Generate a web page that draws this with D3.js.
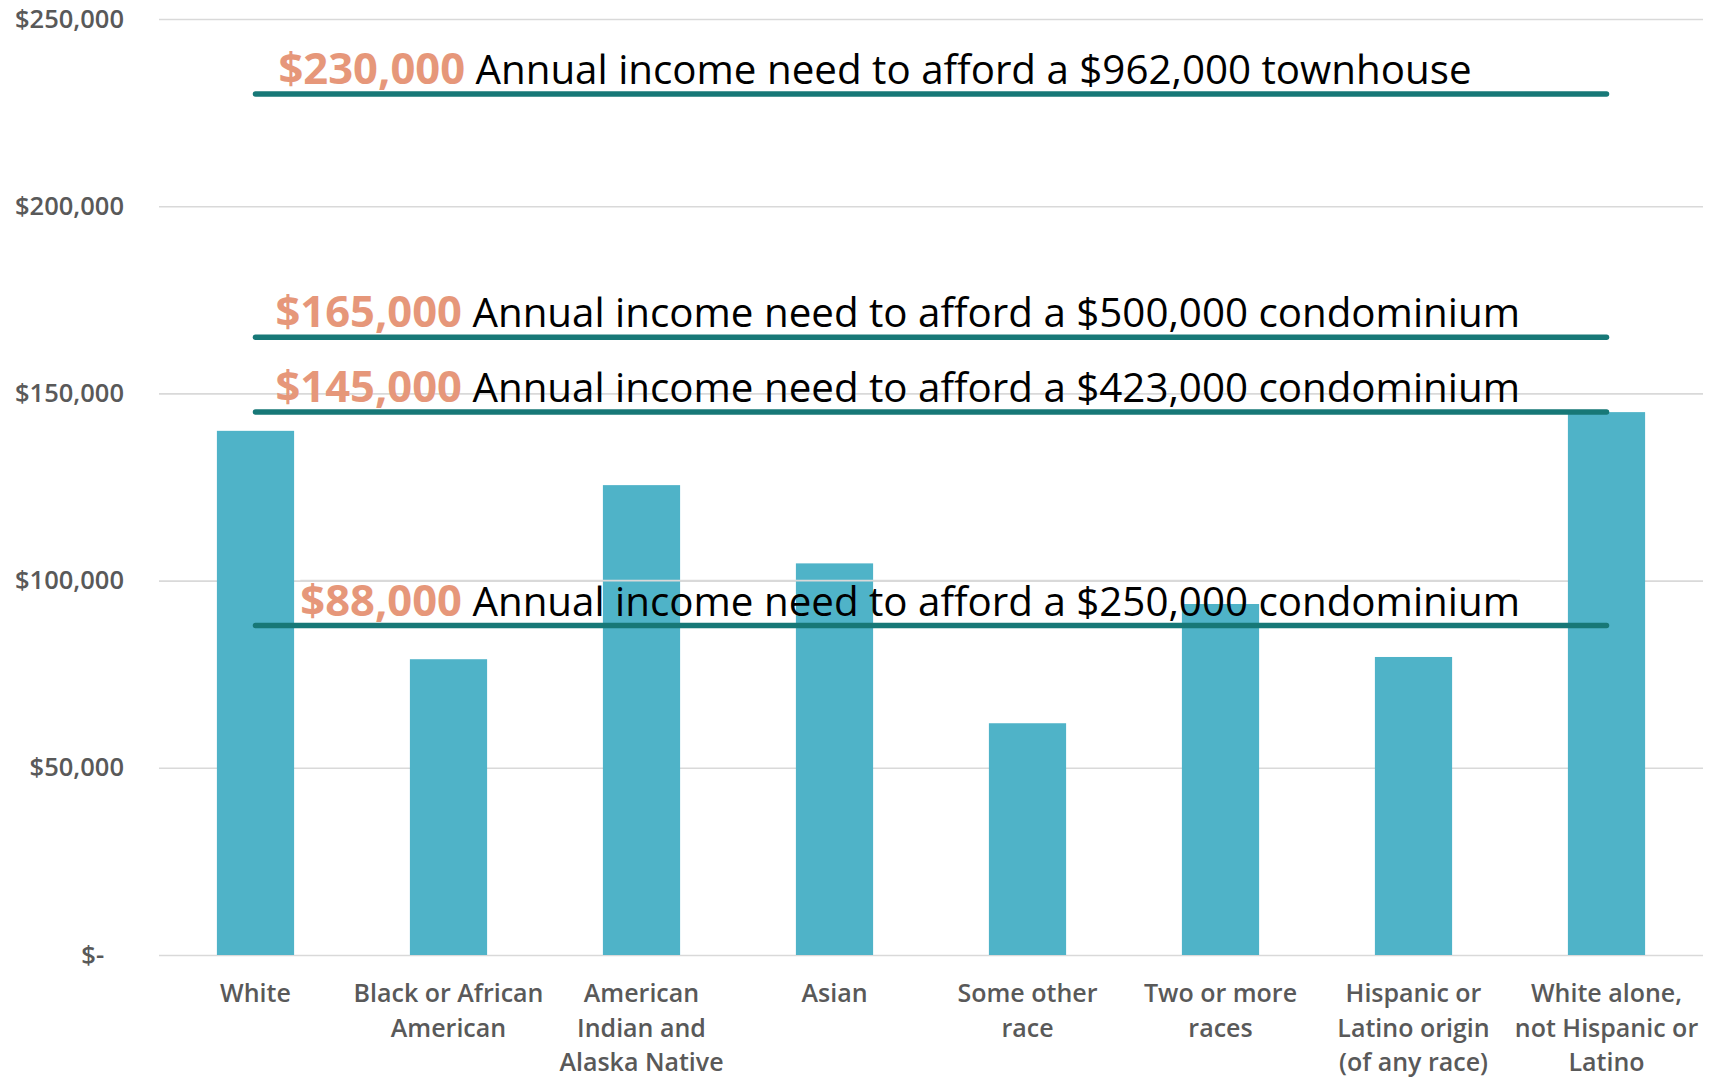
<!DOCTYPE html>
<html>
<head>
<meta charset="utf-8">
<script src="https://cdn.jsdelivr.net/npm/d3@7"></script>
<style>
  html, body { margin: 0; padding: 0; background: #ffffff; }
  svg { display: block; }
  text { font-family: "Open Sans", "Noto Sans", sans-serif; }
</style>
</head>
<body>
<svg id="chart" width="1716" height="1078"></svg>
<script>
// Median household income by race / ethnicity
const categories = [
  "White",
  "Black or African\nAmerican",
  "American\nIndian and\nAlaska Native",
  "Asian",
  "Some other\nrace",
  "Two or more\nraces",
  "Hispanic or\nLatino origin\n(of any race)",
  "White alone,\nnot Hispanic or\nLatino"
];
const incomes = [140000, 79000, 125500, 104600, 61900, 93750, 79600, 145000];

// Income needed to afford each home type
const thresholds = [230000, 165000, 145000, 88000];
const homeLabels = [
  "$962,000 townhouse",
  "$500,000 condominium",
  "$423,000 condominium",
  "$250,000 condominium"
];

const yTicks = [0, 50000, 100000, 150000, 200000, 250000];

const W = 1716, H = 1078;
const margin = { top: 19, right: 13, bottom: 123, left: 159 };

const svg = d3.select("#chart");

const x = d3.scaleBand()
  .domain(categories)
  .range([margin.left, W - margin.right])
  .paddingInner(0.6)
  .paddingOuter(0.3);

const y = d3.scaleLinear()
  .domain([0, 250000])
  .range([H - margin.bottom, margin.top]);

const money = d3.format(",");

// Gridlines + y-axis labels
const yAxis = d3.axisLeft(y)
  .tickValues(yTicks)
  .tickSize(-(W - margin.left - margin.right))
  .tickPadding(35)
  .tickFormat(d => d === 0 ? "$-\u00A0\u00A0\u00A0" : "$" + money(d));

const gy = svg.append("g")
  .attr("transform", `translate(${margin.left},0)`)
  .call(yAxis);
gy.select(".domain").remove();
gy.selectAll(".tick line")
  .attr("stroke", "#d9d9d9")
  .attr("stroke-width", 1.6);
gy.selectAll(".tick text")
  .attr("fill", "#595959")
  .attr("font-size", 25.5)
  .attr("font-weight", 600)
  .style("font-family", "'Open Sans', sans-serif");

// Bars
svg.append("g")
  .selectAll("rect")
  .data(categories)
  .join("rect")
  .attr("x", d => x(d))
  .attr("width", x.bandwidth())
  .attr("y", (d, i) => y(incomes[i]))
  .attr("height", (d, i) => y(0) - y(incomes[i]))
  .attr("fill", "#4fb3c8");

// Category axis
const xAxis = d3.axisBottom(x).tickSize(0).tickPadding(0).tickFormat("");
const gx = svg.append("g")
  .attr("transform", `translate(0,${y(0)})`)
  .call(xAxis);
gx.select(".domain").remove();

gx.selectAll(".tick").each(function(d) {
  const t = d3.select(this).append("text")
    .attr("text-anchor", "middle")
    .attr("fill", "#595959")
    .attr("font-size", 25)
    .attr("font-weight", 600)
    .attr("y", 47);
  d.split("\n").forEach((line, i) => {
    t.append("tspan")
      .attr("x", 0)
      .attr("dy", i === 0 ? 0 : 34.5)
      .text(line);
  });
});

// Threshold lines with labels
const xFirst = x(categories[0]) + x.bandwidth() / 2;
const xLast = x(categories[categories.length - 1]) + x.bandwidth() / 2;

const ann = svg.append("g");
thresholds.forEach((v, i) => {
  ann.append("line")
    .attr("x1", xFirst)
    .attr("x2", xLast)
    .attr("y1", y(v))
    .attr("y2", y(v))
    .attr("stroke", "#177877")
    .attr("stroke-width", 5.5)
    .attr("stroke-linecap", "round");

  const t = ann.append("text")
    .attr("y", y(v) - 10)
    .attr("font-size", 40.3);
  if (i === 0) {
    t.attr("x", xFirst + 23).attr("text-anchor", "start");
  } else {
    t.attr("x", 1520).attr("text-anchor", "end");
  }
  t.append("tspan")
    .attr("font-weight", 700)
    .attr("font-size", 43.5)
    .attr("fill", "#e6977a")
    .text("$" + money(v));
  t.append("tspan")
    .attr("fill", "#000000")
    .text(" Annual income need to afford a " + homeLabels[i]);

  // the lowest label's box edge sits on the $100,000 gridline, above the bars
  if (i === thresholds.length - 1) {
    const bb = t.node().getBBox();
    ann.insert("line", ":first-child")
      .attr("x1", bb.x)
      .attr("x2", bb.x + bb.width)
      .attr("y1", y(100000))
      .attr("y2", y(100000))
      .attr("stroke", "#d9d9d9")
      .attr("stroke-width", 1.6);
  }
});
</script>
</body>
</html>
